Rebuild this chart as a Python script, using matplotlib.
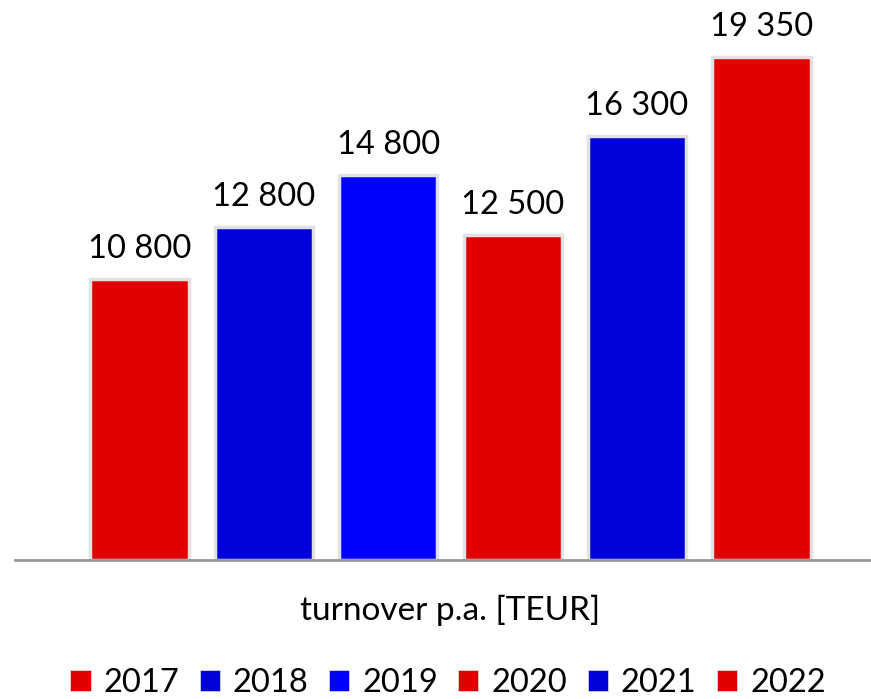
import matplotlib
matplotlib.use("Agg")
import matplotlib.pyplot as plt
from matplotlib.patches import Patch

years = ["2017", "2018", "2019", "2020", "2021", "2022"]
values = [10800, 12800, 14800, 12500, 16300, 19350]
labels = ["10 800", "12 800", "14 800", "12 500", "16 300", "19 350"]
colors = ["#E00000", "#0000D8", "#0000FF", "#E00000", "#0000D8", "#E00000"]
xlabel = "turnover p.a. [TEUR]"

plt.rcParams['font.family'] = ['Lato', 'DejaVu Sans']

fig = plt.figure(figsize=(8.71, 6.99), dpi=100)
ax = fig.add_axes([15/871, 1 - 560/699, 1 - 15/871, 560/699])
x = list(range(len(years)))
ax.bar(x, values, width=0.79, color=colors, edgecolor="#e2e2e2", linewidth=2.5, zorder=2)
for xi, v, lab in zip(x, values, labels):
    ax.annotate(lab, (xi, v), xytext=(0, 11), textcoords="offset points",
                ha="center", va="bottom", fontsize=23.5, color="black")
ax.set_xlim(-1.0, 5.88)
ax.set_ylim(0, 21540)
for s in ["top", "right", "left"]:
    ax.spines[s].set_visible(False)
ax.spines["bottom"].set_color("#999999")
ax.spines["bottom"].set_linewidth(2)
ax.set_xticks([])
ax.set_yticks([])
ax.patch.set_alpha(0)

fig.text(450/871, 1 - 610/699, xlabel, ha="center", va="center", fontsize=24)
handles = [Patch(facecolor=c, edgecolor="#e2e2e2", linewidth=0.5) for c in colors]
fig.legend(handles, years, loc="center", bbox_to_anchor=(448/871, 1 - 683/699),
           ncol=6, frameon=False, fontsize=23.5, handlelength=0.62, handleheight=0.62,
           handletextpad=0.4, columnspacing=0.62)
fig.savefig("out.png", dpi=100)
